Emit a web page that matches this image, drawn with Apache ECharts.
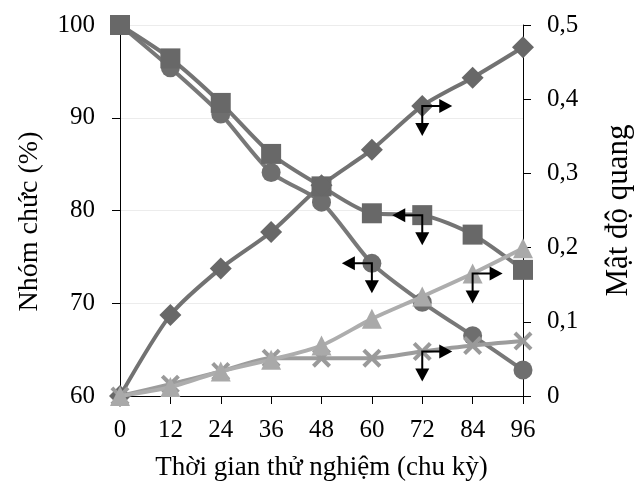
<!DOCTYPE html>
<html>
<head>
<meta charset="utf-8">
<script src="https://cdn.jsdelivr.net/npm/echarts@6/dist/echarts.min.js"></script>
<style>html,body{margin:0;padding:0;background:#fff}#c{width:642px;height:487px}</style>
</head>
<body>
<div id="c"></div>
<script>
const categories = ['0','12','24','36','48','60','72','84','96'];
const squareVals = [100, 96.4, 91.6, 86.1, 82.6, 79.7, 79.5, 77.4, 73.6];
const circleVals = [100, 95.4, 90.4, 84.1, 80.9, 74.3, 70.1, 66.5, 62.8];
const diamondVals = [0, 0.109, 0.172, 0.221, 0.284, 0.332, 0.391, 0.429, 0.47];
const triangleVals = [0, 0.012, 0.033, 0.049, 0.068, 0.104, 0.134, 0.165, 0.199];
const crossVals = [0, 0.016, 0.033, 0.051, 0.051, 0.051, 0.06, 0.068, 0.074];
const leftTicks = [60, 70, 80, 90, 100];
const rightTicks = ['0', '0,1', '0,2', '0,3', '0,4', '0,5'];
// arrow annotations: [series values, category index, direction]
const leftArrows = [[squareVals, 6, -1], [circleVals, 5, -1]];
const rightArrows = [[diamondVals, 6, 1], [triangleVals, 7, 1], [crossVals, 6, 1]];

const FONT = 'Liberation Serif';
const XPATH = 'path://M0,1.5 L1.5,0 L5,3.5 L8.5,0 L10,1.5 L6.5,5 L10,8.5 L8.5,10 L5,6.5 L1.5,10 L0,8.5 L3.5,5 Z';

function arrowItem(params, api) {
  const p = api.coord([api.value(0), api.value(1)]);
  const dir = api.value(2);
  const L = 30, H = 13, W = 7;
  const x = p[0], y = p[1];
  const hx = x + dir * L, vy = y + L;
  const st = {stroke: '#000', lineWidth: 2, fill: 'none'};
  return {
    type: 'group',
    children: [
      {type: 'polyline', shape: {points: [[hx - dir * H + dir * 1, y], [x, y], [x, vy - H + 1]]}, style: st},
      {type: 'polygon', shape: {points: [[hx, y], [hx - dir * H, y - W], [hx - dir * H, y + W]]}, style: {fill: '#000'}},
      {type: 'polygon', shape: {points: [[x, vy], [x - W, vy - H], [x + W, vy - H]]}, style: {fill: '#000'}}
    ]
  };
}

const chart = echarts.init(document.getElementById('c'));
const lineBase = {type: 'line', smooth: 0.25, symbolKeepAspect: true};
chart.setOption({
  animation: false,
  backgroundColor: '#fff',
  textStyle: {fontFamily: FONT},
  grid: {left: 120, right: 118, top: 25, bottom: 91},
  xAxis: {
    type: 'category', data: categories, boundaryGap: false,
    name: 'Thời gian thử nghiệm (chu kỳ)', nameLocation: 'middle', nameGap: 58,
    nameTextStyle: {fontFamily: FONT, fontSize: 27, color: '#000'},
    axisLine: {lineStyle: {color: '#000', width: 1}},
    axisTick: {alignWithLabel: true, length: 8, lineStyle: {color: '#000'}},
    axisLabel: {fontFamily: FONT, fontSize: 25, color: '#000', margin: 22},
    splitLine: {show: false}
  },
  yAxis: [{
    type: 'value', min: 60, max: 100, interval: 10,
    name: 'Nhóm chức (%)', nameLocation: 'middle', nameGap: 76,
    nameTextStyle: {fontFamily: FONT, fontSize: 28, color: '#000', padding: [0, 22, 0, 0]},
    axisLine: {show: true, lineStyle: {color: '#000', width: 1}},
    axisTick: {show: true, length: 8, lineStyle: {color: '#000'}},
    axisLabel: {fontFamily: FONT, fontSize: 25, color: '#000', margin: 25,
      formatter: v => String(leftTicks[leftTicks.indexOf(v)])},
    splitLine: {show: true, lineStyle: {color: '#ececec', width: 1}}
  }, {
    type: 'value', min: 0, max: 0.5, interval: 0.1,
    name: 'Mật độ quang', nameLocation: 'middle', nameGap: 80,
    nameRotate: 90,
    nameTextStyle: {fontFamily: FONT, fontSize: 31, color: '#000'},
    axisLine: {show: true, lineStyle: {color: '#000', width: 1}},
    axisTick: {show: true, length: 8, lineStyle: {color: '#000'}},
    axisLabel: {fontFamily: FONT, fontSize: 25, color: '#000', margin: 24,
      formatter: v => rightTicks[Math.round(v * 10)]},
    splitLine: {show: false}
  }],
  series: [
    Object.assign({}, lineBase, {name: 'circle', yAxisIndex: 0, data: circleVals, symbol: 'circle', symbolSize: 19,
      lineStyle: {color: '#787878', width: 4}, itemStyle: {color: '#6e6e6e'}, z: 2}),
    Object.assign({}, lineBase, {name: 'square', yAxisIndex: 0, data: squareVals, symbol: 'rect', symbolSize: 20,
      lineStyle: {color: '#747474', width: 4}, itemStyle: {color: '#686868'}, z: 3}),
    Object.assign({}, lineBase, {name: 'diamond', yAxisIndex: 1, data: diamondVals, symbol: 'diamond', symbolSize: [22, 22],
      lineStyle: {color: '#727272', width: 4}, itemStyle: {color: '#686868'}, z: 3}),
    Object.assign({}, lineBase, {name: 'cross', yAxisIndex: 1, data: crossVals, symbol: XPATH, symbolSize: 19,
      lineStyle: {color: '#9c9c9c', width: 4}, itemStyle: {color: '#9a9a9a'}, z: 4}),
    Object.assign({}, lineBase, {name: 'triangle', yAxisIndex: 1, data: triangleVals, symbol: 'triangle', symbolSize: 20,
      lineStyle: {color: '#adadad', width: 4}, itemStyle: {color: '#a9a9a9'}, z: 5}),
    {type: 'custom', yAxisIndex: 0, renderItem: arrowItem, z: 10, silent: true,
      data: leftArrows.map(a => [a[1], a[0][a[1]], a[2]])},
    {type: 'custom', yAxisIndex: 1, renderItem: arrowItem, z: 10, silent: true,
      data: rightArrows.map(a => [a[1], a[0][a[1]], a[2]])}
  ]
});
</script>
</body>
</html>
